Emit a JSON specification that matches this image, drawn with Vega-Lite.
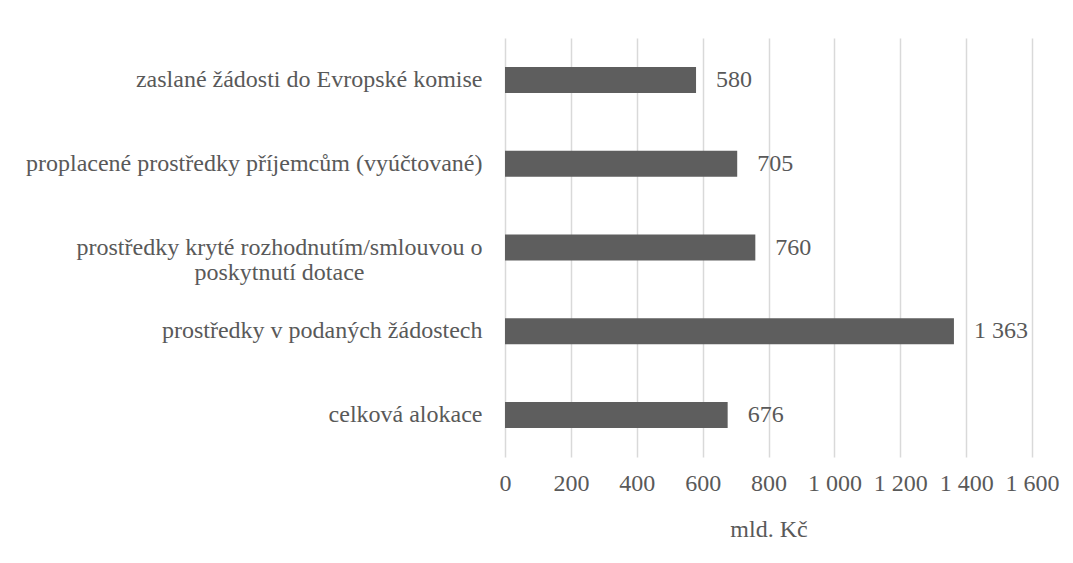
{
  "$schema": "https://vega.github.io/schema/vega-lite/v6.json",
  "autosize": {"type": "none"},
  "width": 527,
  "height": 419,
  "padding": {"left": 505, "top": 38, "right": 41, "bottom": 106},
  "background": "white",
  "config": {
    "view": {"stroke": null},
    "font": "'Liberation Serif', 'Times New Roman', serif",
    "locale": {"number": {"decimal": ",", "thousands": " ", "grouping": [3], "currency": ["", ""]}}
  },
  "data": {
    "values": [
      {"kategorie": "zaslané žádosti do Evropské komise", "hodnota": 580},
      {"kategorie": "proplacené prostředky příjemcům (vyúčtované)", "hodnota": 705},
      {"kategorie": "prostředky kryté rozhodnutím/smlouvou o poskytnutí dotace", "hodnota": 760},
      {"kategorie": "prostředky v podaných žádostech", "hodnota": 1363},
      {"kategorie": "celková alokace", "hodnota": 676}
    ]
  },
  "encoding": {
    "y": {
      "field": "kategorie",
      "type": "nominal",
      "sort": null,
      "scale": {"paddingInner": 0.69, "paddingOuter": 0.345},
      "axis": {
        "title": null,
        "domain": false,
        "ticks": false,
        "labelFont": "'Liberation Serif', 'Times New Roman', serif",
        "labelFontSize": 24,
        "labelColor": "#595959",
        "labelLimit": 600,
        "labelLineHeight": 25,
        "labelBaseline": "middle",
        "labelAlign": {"condition": {"test": "indexof(datum.value, 'kryté') >= 0", "value": "center"}, "value": "right"},
        "labelPadding": {"condition": {"test": "indexof(datum.value, 'kryté') >= 0", "value": 226}, "value": 23},
        "labelExpr": "indexof(datum.value, 'kryté') >= 0 ? ['prostředky kryté rozhodnutím/smlouvou o', 'poskytnutí dotace'] : datum.value"
      }
    },
    "x": {
      "field": "hodnota",
      "type": "quantitative",
      "scale": {"domain": [0, 1600], "nice": false},
      "axis": {
        "title": "mld. Kč",
        "values": [0, 200, 400, 600, 800, 1000, 1200, 1400, 1600],
        "format": ",d",
        "labelOverlap": false,
        "labelFlush": false,
        "labelBound": false,
        "domain": false,
        "ticks": false,
        "grid": true,
        "gridColor": "#d9d9d9",
        "gridWidth": 1.5,
        "labelFont": "'Liberation Serif', 'Times New Roman', serif",
        "labelFontSize": 24,
        "labelColor": "#595959",
        "labelPadding": 14,
        "titleFont": "'Liberation Serif', 'Times New Roman', serif",
        "titleFontSize": 24,
        "titleFontWeight": "normal",
        "titleColor": "#595959",
        "titlePadding": 22
      }
    }
  },
  "layer": [
    {"mark": {"type": "bar", "color": "#5e5e5e"}},
    {
      "mark": {"type": "text", "align": "left", "baseline": "middle", "dx": 20, "font": "'Liberation Serif', 'Times New Roman', serif", "fontSize": 24, "color": "#595959"},
      "encoding": {"text": {"field": "hodnota", "type": "quantitative", "format": ",d"}}
    }
  ]
}
